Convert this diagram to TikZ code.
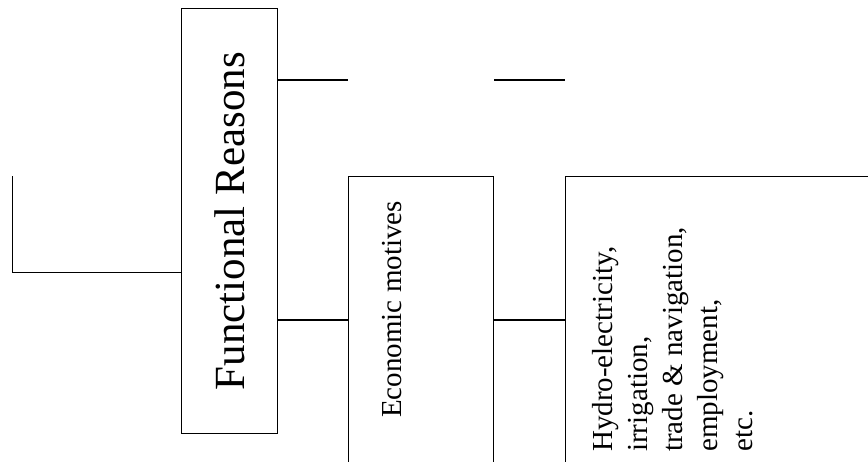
\documentclass[tikz,border=0pt]{standalone}
\usepackage{fontspec}
\setmainfont{Liberation Serif}

\begin{document}
\begin{tikzpicture}[x=1pt,y=1pt,
  box/.style={draw, line width=1.1pt, inner sep=0pt},
  link/.style={line width=1.1pt},
  side/.style={rotate=90, inner sep=0pt, font=\fontsize{29}{35}\selectfont}]

  \clip (0,0) rectangle (868,-461);

  \node (fr) at (181,-8) [box, anchor=north west, minimum width=96pt, minimum height=425pt,
        font=\fontsize{43}{50}\selectfont] {\rotatebox{90}{Functional Reasons}};
  \node (econ) at (348,-176) [box, anchor=north west, minimum width=145pt, minimum height=320pt] {};
  \node (hydro) at (565,-176) [box, anchor=north west, minimum width=330pt, minimum height=320pt] {};

  \node (econtext) at (401,-418) [side, anchor=base west] {Economic motives};
  \node (hydrotext) at (592.5,-452) [side, anchor=north west, align=left]
        {Hydro-electricity,\\ irrigation,\\ trade \& navigation,\\ employment,\\ etc.};

  \coordinate (lefttop) at (12.7,-176);
  \coordinate (leftend) at (12.7,-272.5);
  \coordinate (toprow) at (0,-80);
  \coordinate (midrow) at (0,-320);

  \draw [link] (lefttop) -- (leftend) -- (leftend -| fr.west);
  \draw [link] (fr.east |- toprow) -- (econ.west |- toprow);
  \draw [link] (econ.east |- toprow) -- (hydro.west |- toprow);
  \draw [link] (fr.east |- midrow) -- (econ.west |- midrow);
  \draw [link] (econ.east |- midrow) -- (hydro.west |- midrow);

\end{tikzpicture}
\end{document}
